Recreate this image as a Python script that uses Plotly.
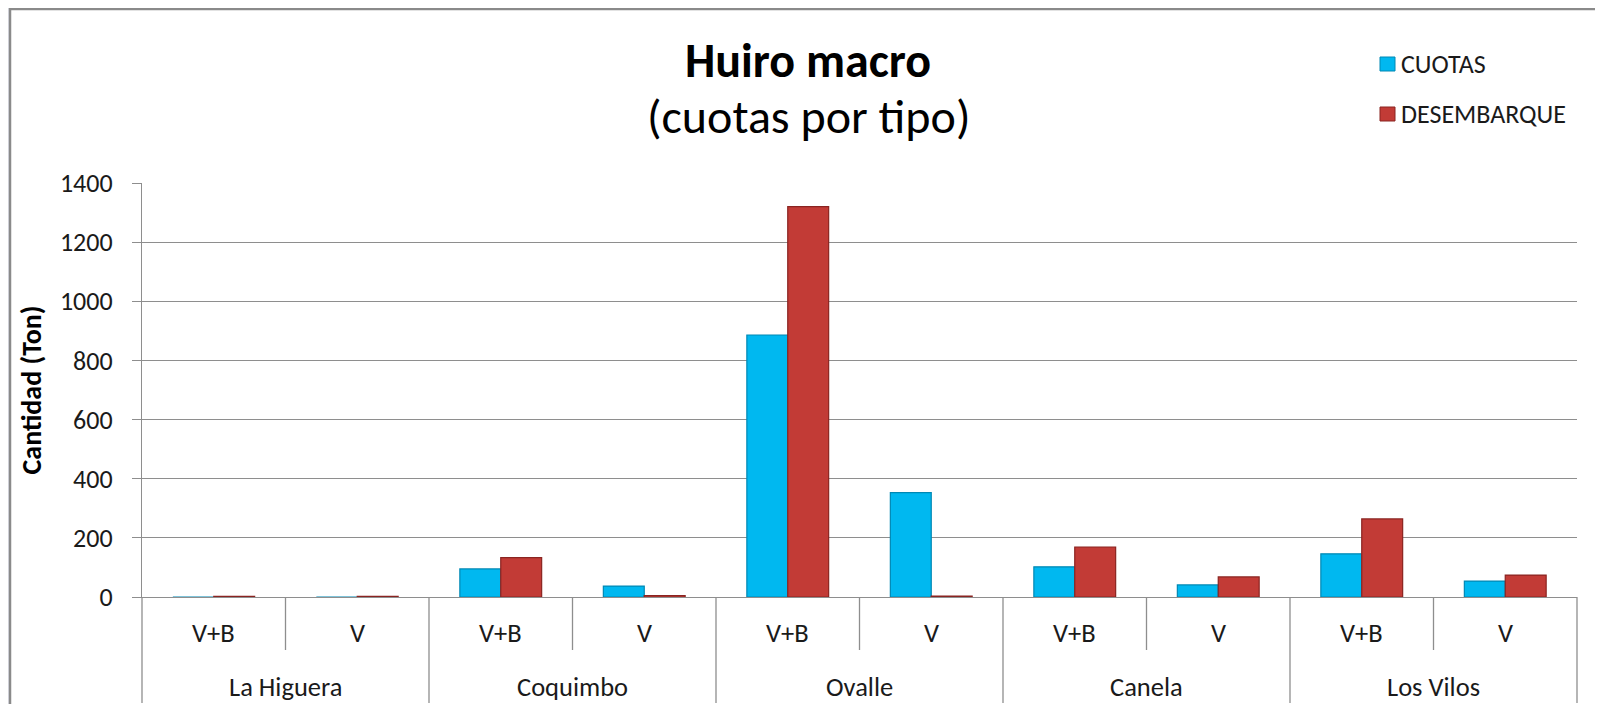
import plotly.graph_objects as go

# ---- data ----
groups = ["La Higuera", "Coquimbo", "Ovalle", "Canela", "Los Vilos"]
types = ["V+B", "V"]
cuotas = [0, 0, 95, 37, 886, 353, 102, 41, 146, 54]
desembarque = [2, 2, 133, 5, 1320, 3, 169, 68, 264, 74]
series_names = ["CUOTAS", "DESEMBARQUE"]
y_ticks = [0, 200, 400, 600, 800, 1000, 1200, 1400]

FONT = "Calibri, Carlito, Lato, sans-serif"
BLUE = "#00B8F0"
BLUE_EDGE = "#0088B4"
RED = "#C23B36"
RED_EDGE = "#8A2421"
GRID = "#8E8E8E"
TXT = "#1a1a1a"

# the page body has an 8px margin: figure coords = screen coords - OFF
OFF = 8
W, H = 1603 - 2 * OFF, 712 - 2 * OFF
# plot area in screen pixels
L, R, T, B = 142, 1577, 183, 597
PW, PH = R - L, B - T


def px(X):
    return (X - L) / PW


def py(Y):
    return (B - Y) / PH


x_grp = [g for g in groups for _ in types]
x_typ = [t for _ in groups for t in types]
n = len(x_grp)

fig = go.Figure()
fig.add_trace(go.Bar(
    x=[x_grp, x_typ], y=cuotas, name=series_names[0],
    marker=dict(color=BLUE, line=dict(color=BLUE_EDGE, width=1.2)),
    showlegend=False,
))
fig.add_trace(go.Bar(
    x=[x_grp, x_typ], y=desembarque, name=series_names[1],
    marker=dict(color=RED, line=dict(color=RED_EDGE, width=1.2)),
    showlegend=False,
))

shapes = []
# white chart area with grey border
shapes.append(dict(type="rect", xref="paper", yref="paper",
                   x0=px(10), x1=px(1640), y0=py(760), y1=py(9),
                   fillcolor="white", line=dict(color="#8A8A8A", width=2.5),
                   layer="below"))
# category dividers below the axis
for k in range(n + 1):
    bottom = 703 if k % len(types) == 0 else 650
    shapes.append(dict(type="line", xref="paper", yref="paper",
                       x0=k / n, x1=k / n, y0=0, y1=py(bottom),
                       line=dict(color=GRID, width=1.3)))

annotations = []
# sub-category labels
for i, t in enumerate(x_typ):
    annotations.append(dict(xref="paper", yref="paper", x=(i + 0.5) / n, y=py(633),
                            text=t, showarrow=False, xanchor="center", yanchor="middle",
                            font=dict(family=FONT, size=26.5, color=TXT)))
# group labels
for j, g in enumerate(groups):
    annotations.append(dict(xref="paper", yref="paper",
                            x=(j + 0.5) * len(types) / n, y=py(687),
                            text=g, showarrow=False, xanchor="center", yanchor="middle",
                            font=dict(family=FONT, size=26.5, color=TXT)))

# subtitle line
annotations.append(dict(xref="paper", yref="paper", x=px(808), y=py(117),
                        text="(cuotas por tipo)", showarrow=False,
                        xanchor="center", yanchor="middle",
                        font=dict(family=FONT, size=48, color="black")))

# manual legend
leg_colors = [(BLUE, BLUE_EDGE), (RED, RED_EDGE)]
for k, name in enumerate(series_names):
    yc = 64 + 50 * k
    shapes.append(dict(type="rect", xref="paper", yref="paper",
                       x0=px(1380), x1=px(1395), y0=py(yc + 7), y1=py(yc - 7),
                       fillcolor=leg_colors[k][0], line=dict(color=leg_colors[k][1], width=1)))
    annotations.append(dict(xref="paper", yref="paper", x=px(1399), y=py(yc),
                            text=name, showarrow=False, xanchor="left", yanchor="middle",
                            font=dict(family=FONT, size=26, color=TXT)))

fig.update_layout(
    width=W, height=H,
    margin=dict(l=L - OFF, r=W - (R - OFF), t=T - OFF, b=H - (B - OFF), pad=0),
    paper_bgcolor="#E4E6EF",
    plot_bgcolor="white",
    barmode="group", bargap=0.43, bargroupgap=0,
    title=dict(text="<b>Huiro macro</b>",
               font=dict(family=FONT, size=48, color="black"),
               x=px(808), xanchor="center", xref="paper",
               y=1 - (60 - OFF) / H, yanchor="middle", yref="container"),
    xaxis=dict(type="multicategory", showticklabels=False, ticks="",
               showgrid=False, showline=True, linecolor=GRID, linewidth=1.3,
               showdividers=False, zeroline=False),
    yaxis=dict(range=[0, 1400], tickvals=y_ticks, showgrid=True,
               gridcolor=GRID, gridwidth=1.3, zeroline=False,
               showline=True, linecolor=GRID, linewidth=1.3,
               ticks="outside", ticklen=9, tickcolor=GRID, tickwidth=1.3,
               ticklabelstandoff=14,
               tickfont=dict(family=FONT, size=26, color=TXT),
               title=dict(text="<b>Cantidad (Ton)</b>", standoff=10,
                          font=dict(family=FONT, size=28, color="black"))),
    shapes=shapes,
    annotations=annotations,
    font=dict(family=FONT),
)

fig.write_html("out.html")
